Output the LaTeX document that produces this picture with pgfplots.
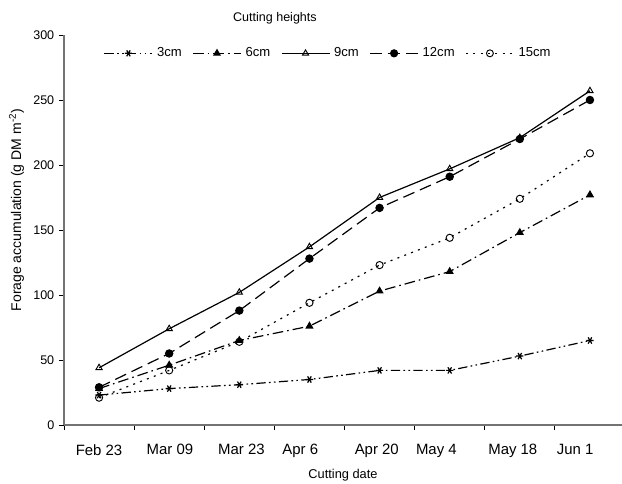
\documentclass[border=0pt]{standalone}
\usepackage{fontspec}
\setmainfont{Liberation Sans}
\usepackage{pgfplots}
\pgfplotsset{compat=1.18}
\usetikzlibrary{calc}

% one pixel of the reference
\newcommand{\px}{0.75pt}

\begin{document}
\begin{tikzpicture}
\begin{axis}[
  name=ax,
  width=418.5pt, height=292.5pt,
  scale only axis,
  xmin=-0.5, xmax=7.457,
  ymin=0, ymax=300,
  axis lines*=left,
  axis line style={draw=black!55, line width=0.9pt},
  ytick={0,50,...,300},
  xtick={-0.5,0.5,...,6.5},
  xticklabels={},
  extra x ticks={0,1.01,2.03,2.87,3.96,4.81,5.9,6.79},
  extra x tick labels={Feb 23,Mar 09,Mar 23,Apr 6,Apr 20,May 4,May 18,Jun 1},
  extra x tick style={major tick length=0pt,
    tick label style={font=\fontsize{11.2}{13}\selectfont, yshift=-11pt}},
  tick align=outside,
  major tick length=3.8pt,
  tick style={black, line width=0.6pt},
  /pgf/number format/assume math mode=true,
  yticklabel style={font=\fontsize{9.4}{11}\selectfont},
  xlabel={Cutting date},
  xlabel style={font=\fontsize{9.6}{11}\selectfont, at={(rel axis cs:0.5,0)},
    anchor=north, yshift=-30pt},
  ylabel={Forage accumulation (g DM m\textsuperscript{-2})},
  ylabel style={font=\fontsize{10.5}{12}\selectfont,
    at={(ticklabel cs:0.551)}, anchor=near ticklabel, xshift=0pt},
  legend columns=5,
  legend style={draw=none, fill=none, at={(rel axis cs:0.474,0.953)}, anchor=center,
    font=\fontsize{9.8}{11}\selectfont,
    /tikz/every odd column/.append style={column sep=1pt},
    /tikz/every even column/.append style={column sep=6pt}},
  legend cell align=left,
  legend image code/.code={%
    \draw[mark repeat=2, mark phase=2, mark size=2.6pt, #1]
      plot coordinates {(0pt,0pt) (18pt,0pt) (36pt,0pt)};},
  clip=false,
  every axis plot/.append style={black, line width=0.9pt, mark size=2.7pt},
]

% 3cm
\addplot[dash pattern=on 7pt off 2.5pt on 1.2pt off 2.5pt on 1.2pt off 2.5pt,
  mark=asterisk, mark options={solid, rotate=90, line width=0.9pt}]
  coordinates {(0,23) (1,28) (2,31) (3,35) (4,42) (5,42) (6,53) (7,65)};
\addlegendentry{3cm}

% 6cm
\addplot[dash pattern=on 8pt off 3pt on 1.2pt off 3pt,
  mark=triangle*, mark options={solid, fill=black}]
  coordinates {(0,28) (1,46) (2,65) (3,76) (4,103) (5,118) (6,148) (7,177)};
\addlegendentry{6cm}

% 9cm
\addplot[solid, mark=triangle, mark options={solid, fill=white, line width=0.7pt}]
  coordinates {(0,44) (1,74) (2,102) (3,137) (4,175) (5,197) (6,221) (7,257)};
\addlegendentry{9cm}

% 12cm
\addplot[dash pattern=on 9pt off 4.5pt,
  mark=*, mark options={solid, fill=black}]
  coordinates {(0,29) (1,55) (2,88) (3,128) (4,167) (5,191) (6,220) (7,250)};
\addlegendentry{12cm}

% 15cm
\addplot[dash pattern=on 1.5pt off 4pt,
  mark=o, mark options={solid, fill=white, line width=0.7pt}]
  coordinates {(0,21) (1,42) (2,64) (3,94) (4,123) (5,144) (6,174) (7,209)};
\addlegendentry{15cm}

\node[font=\fontsize{9.4}{11}\selectfont] at (rel axis cs:0.378,1.044) {Cutting heights};
\end{axis}
\pgfresetboundingbox
\path[use as bounding box] ($(ax.south west)+(-64*\px,-59*\px)$)
  rectangle ($(ax.north east)+(0,35*\px)$);
\end{tikzpicture}
\end{document}
